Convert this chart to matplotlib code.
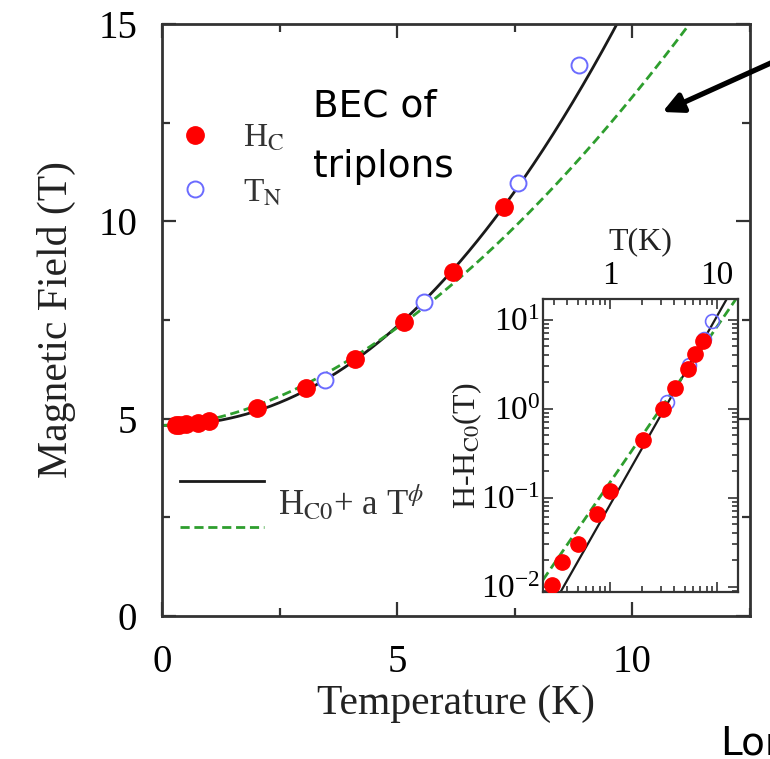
import numpy as np
import matplotlib
matplotlib.use("Agg")
import matplotlib.pyplot as plt
from matplotlib.lines import Line2D
from matplotlib.ticker import FixedLocator, MultipleLocator, LogLocator, FuncFormatter, NullFormatter

plt.rcParams['font.family'] = ['Liberation Serif', 'DejaVu Serif']
plt.rcParams['mathtext.fontset'] = 'stix'

# ---- data ----
hc_T = [0.29, 0.36, 0.50, 0.76, 1.00, 2.02, 3.06, 4.11, 5.15, 6.19, 7.26]
hc_H = [4.84, 4.84, 4.86, 4.89, 4.93, 5.27, 5.78, 6.51, 7.45, 8.72, 10.36]
tn_T = [3.47, 5.57, 7.57, 8.87]
tn_H = [5.98, 7.96, 10.97, 13.96]

# inset: H - H_C0 vs T (log-log)
in_hc_T = [0.29, 0.355, 0.50, 0.76, 1.00, 2.04, 3.1, 4.07, 5.4, 6.2, 7.4]
in_hc_dH = [0.0105, 0.019, 0.030, 0.066, 0.12, 0.44, 0.98, 1.7, 2.77, 4.1, 5.7]
in_tn_T = [3.4, 5.5, 7.5, 8.9]
in_tn_dH = [1.2, 3.1, 6.1, 9.6]

# fit parameters H = H_C0 + a T^phi
H_C0 = 4.83
fit_black = dict(a=0.0828, phi=2.12)
fit_green = dict(a=0.148, phi=1.75)

x_ticks = [0, 5, 10]
y_ticks = [0, 5, 10, 15]

red = '#ff0000'
blue = '#6b6bff'
green = '#2e9e2e'
spine_c = '#333333'
dash = (3.3, 1.7)

fig = plt.figure(figsize=(7.70, 7.59), dpi=100)
ax = fig.add_axes([0.2104, 0.1884, 0.7636, 0.780])

T = np.linspace(0, 14, 400)
ax.plot(T, H_C0 + fit_black['a'] * T ** fit_black['phi'], color='#1a1a1a', lw=2.0, zorder=2)
ax.plot(T, H_C0 + fit_green['a'] * T ** fit_green['phi'], color=green, lw=2.0,
        dashes=dash, zorder=2)
ax.plot(hc_T, hc_H, 'o', color=red, ms=12.5, mec=red, zorder=4, ls='none')
ax.plot(tn_T, tn_H, 'o', mfc='white', mec=blue, mew=1.4, ms=11.5, zorder=3, ls='none')

ax.set_xlim(0, 12.5)
ax.set_ylim(0, 15)
ax.xaxis.set_major_locator(FixedLocator(x_ticks))
ax.yaxis.set_major_locator(FixedLocator(y_ticks))
ax.xaxis.set_minor_locator(MultipleLocator(2.5))
ax.yaxis.set_minor_locator(MultipleLocator(2.5))
ax.tick_params(which='both', direction='in', top=True, right=True, color=spine_c, width=1.6)
ax.tick_params(which='major', length=10, labelsize=28, pad=18)
ax.tick_params(which='minor', length=6)
ax.tick_params(axis='x', which='major', pad=20)
for s in ax.spines.values():
    s.set_color(spine_c)
    s.set_linewidth(2.0)
ax.set_xlabel('Temperature (K)', fontsize=30, labelpad=3, color='#222222')
ax.set_ylabel('Magnetic Field (T)', fontsize=30, labelpad=16, color='#222222')

# marker legend
h1 = Line2D([], [], ls='none', marker='o', color=red, ms=12.5)
h2 = Line2D([], [], ls='none', marker='o', mfc='white', mec=blue, mew=1.4, ms=11.5)
leg1 = ax.legend([h1, h2], [r'H$_{\mathrm{C}}$', r'T$_{\mathrm{N}}$'], loc='upper left',
                 bbox_to_anchor=(-0.012, 0.872), frameon=False, fontsize=24,
                 handlelength=1.0, handletextpad=0.95, labelspacing=0.72, borderaxespad=0.3)
for t in leg1.get_texts():
    t.set_color('#333333')
ax.add_artist(leg1)

# line legend
l1 = Line2D([], [], color='#1a1a1a', lw=2.0)
l2 = Line2D([], [], color=green, lw=2.0, dashes=dash)
leg2 = ax.legend([l1, l2], ['', ''], loc='upper left', bbox_to_anchor=(-0.005, 0.283),
                 frameon=False, fontsize=22, handlelength=2.75, labelspacing=0.55,
                 borderaxespad=0.3)
ax.text(0.197, 0.19, r'H$_{\mathrm{C0}}$+ a T$^{\phi}$', transform=ax.transAxes,
        fontsize=25, color='#333333', va='center', ha='left')

# annotation text and arrow
ax.text(0.257, 0.843, 'BEC of', transform=ax.transAxes, fontsize=27,
        family=['DejaVu Sans'], va='baseline', ha='left')
ax.text(0.257, 0.742, 'triplons', transform=ax.transAxes, fontsize=27,
        family=['DejaVu Sans'], va='baseline', ha='left')
ax.annotate('', xy=(10.64, 12.77), xytext=(13.2, 14.15), xycoords='data',
            arrowprops=dict(arrowstyle='-|>,head_length=1.2,head_width=0.6', color='black',
                            lw=3.8, shrinkA=0, shrinkB=0), annotation_clip=False)
fig.text(0.935, 0.006, 'Lon', fontsize=28, family=['DejaVu Sans'], va='baseline', ha='left')

# ---- inset ----
axi = fig.add_axes([0.7052, 0.2200, 0.2532, 0.3860])
Ti = np.logspace(np.log10(0.2), np.log10(20), 200)
axi.plot(Ti, fit_black['a'] * Ti ** fit_black['phi'], color='#1a1a1a', lw=1.6, zorder=2)
axi.plot(Ti, fit_green['a'] * Ti ** fit_green['phi'], color=green, lw=2.0,
         dashes=dash, zorder=2)
axi.plot(in_hc_T, in_hc_dH, 'o', color=red, ms=11, zorder=4, ls='none')
axi.plot(in_tn_T, in_tn_dH, 'o', mfc='none', mec=blue, mew=1.2, ms=10, zorder=3, ls='none')
axi.set_xscale('log')
axi.set_yscale('log')
axi.set_xlim(0.237, 15.7)
axi.set_ylim(0.0087, 17)
axi.xaxis.set_major_locator(LogLocator(base=10, numticks=10))
axi.xaxis.set_minor_locator(LogLocator(base=10, subs=np.arange(2, 10), numticks=20))
axi.yaxis.set_major_locator(LogLocator(base=10, numticks=10))
axi.yaxis.set_minor_locator(LogLocator(base=10, subs=np.arange(2, 10), numticks=20))
axi.xaxis.set_major_formatter(FuncFormatter(lambda v, p: f'{v:g}'))
axi.xaxis.set_minor_formatter(NullFormatter())
axi.yaxis.set_minor_formatter(NullFormatter())
axi.tick_params(which='both', direction='in', top=True, right=True, bottom=True,
                labeltop=True, labelbottom=False, color=spine_c, width=1.2)
axi.tick_params(which='major', length=7, labelsize=24, pad=6)
axi.tick_params(axis='y', which='major', pad=2)
axi.tick_params(which='minor', length=4)
axi.xaxis.set_label_position('top')
axi.set_xlabel('T(K)', fontsize=23, labelpad=8, color='#222222')
axi.set_ylabel(r'H-H$_{\mathrm{C0}}$(T)', fontsize=23, labelpad=-2, color='#222222')
for s in axi.spines.values():
    s.set_color(spine_c)
    s.set_linewidth(1.6)

fig.savefig('out.png', dpi=100)
